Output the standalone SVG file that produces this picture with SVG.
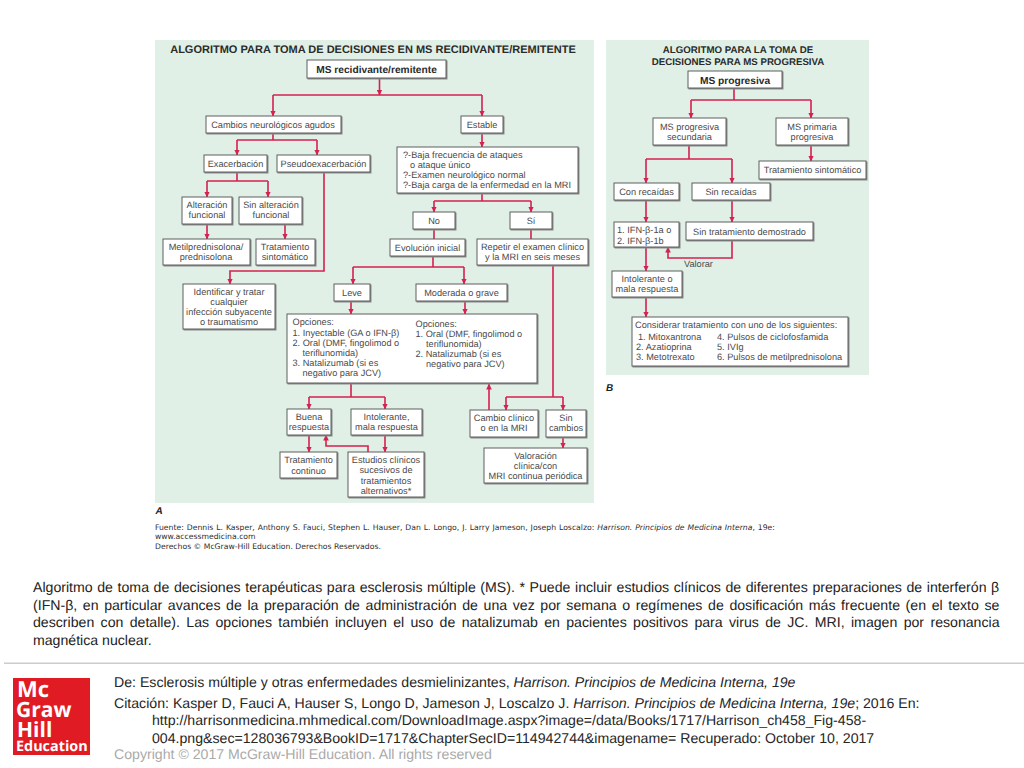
<svg xmlns="http://www.w3.org/2000/svg" width="1024" height="768" viewBox="0 0 1024 768">
<defs>
<marker id="ah" markerUnits="userSpaceOnUse" viewBox="0 0 6 6" refX="5.5" refY="3" markerWidth="6" markerHeight="6" orient="auto"><path d="M0 0.2L6 3L0 5.8z" fill="#d6204f"/></marker>
</defs>
<style>
text{font-family:"Liberation Sans",Arial,sans-serif;text-rendering:geometricPrecision}
.p{fill:#e0f0e6}
.b rect{fill:#fff;stroke:#5f5f5f;stroke-width:1;filter:drop-shadow(1px 1px 0 #8a8a8a)}
.b text{font-size:9.2px;fill:#4a4a4a;text-anchor:middle}
.b text.l{text-anchor:start}
.b text.s{font-weight:bold;font-size:10.2px;fill:#2a2a2a}
.t{font-weight:bold;font-size:11px;fill:#2b2b2b;text-anchor:middle}
.t2{font-size:9.7px}
.c path{fill:none;stroke:#d6204f;stroke-width:1.6}
.c path.a{marker-end:url(#ah)}
.j{font-size:14.14px;fill:#222}
.f{font-size:14.14px;fill:#262626}
.src{font-family:"DejaVu Sans",sans-serif;font-size:7.7px;fill:#2e2e2e}
.lab{font-size:10px;font-weight:bold;font-style:italic;fill:#222}
.lg{font-family:"Open Sans",sans-serif;font-weight:bold;fill:#fff}
</style>
<rect width="1024" height="768" fill="#fff"/>
<rect class="p" x="155" y="40" width="439" height="463"/>
<rect class="p" x="606" y="40" width="263" height="335"/>
<text class="t" x="373" y="53">ALGORITMO PARA TOMA DE DECISIONES EN MS RECIDIVANTE/REMITENTE</text>
<text class="t t2" x="738" y="53">ALGORITMO PARA LA TOMA DE</text>
<text class="t t2" x="738" y="65">DECISIONES PARA MS PROGRESIVA</text>
<g id="connectors" class="c">
<path class="a" d="M379.5 78V95"/><path d="M273 95H482"/><path class="a" d="M273 95V116"/><path class="a" d="M482 95V116"/>
<path d="M273 133V140M237 140H317"/><path class="a" d="M237 140V155"/><path class="a" d="M317 140V155"/>
<path d="M237 172V181M207 181H268"/><path class="a" d="M207 181V197"/><path class="a" d="M268 181V197"/>
<path class="a" d="M324 172V271H230V284"/>
<path class="a" d="M207 224V239"/><path class="a" d="M285 224V239"/>
<path class="a" d="M482 133V147"/>
<path d="M482 193V201M434 201H531"/><path class="a" d="M434 201V212"/><path class="a" d="M531 201V212"/>
<path d="M434 229V239M531 229V239"/>
<path d="M433 256V267M353 267H464"/><path class="a" d="M353 267V284"/><path class="a" d="M464 267V284"/>
<path d="M553 265V397M506 397H563"/><path class="a" d="M506 397V410"/><path class="a" d="M563 397V410"/>
<path class="a" d="M351 301V314"/><path class="a" d="M465 301V314"/>
<path d="M351 383V397M309 397H385"/><path class="a" d="M309 397V409"/><path class="a" d="M385 397V409"/>
<path class="a" d="M489 410V384"/>
<path class="a" d="M309 435V452"/><path class="a" d="M385 435V452"/>
<path class="a" d="M368 452V446H326V435"/>
<path class="a" d="M563 437V448"/>
<path d="M734 88V100M691 100H811"/><path class="a" d="M691 100V118"/><path class="a" d="M811 100V118"/>
<path d="M689 145V159M646 159H732"/><path class="a" d="M646 159V183"/><path class="a" d="M732 159V183"/>
<path class="a" d="M811 145V161"/>
<path class="a" d="M646 200V222"/><path class="a" d="M732 200V222"/>
<path class="a" d="M646 247V271"/>
<path class="a" d="M732 240V258H668V247"/>
<path class="a" d="M646 297V317"/>
</g>
<g id="n-root" class="b"><rect x="307" y="60" width="139" height="18"/><text class="s" x="376.5" y="73">MS recidivante/remitente</text></g>
<g id="n-cambios" class="b"><rect x="206" y="116" width="135" height="17"/><text x="273" y="128">Cambios neurológicos agudos</text></g>
<g id="n-estable" class="b"><rect x="461" y="116" width="42" height="17"/><text x="482" y="128">Estable</text></g>
<g id="n-exac" class="b"><rect x="204" y="155" width="63" height="17"/><text x="235.5" y="167">Exacerbación</text></g>
<g id="n-pseudo" class="b"><rect x="277" y="155" width="93" height="17"/><text x="323.5" y="167">Pseudoexacerbación</text></g>
<g id="n-baja" class="b"><rect x="397" y="147" width="181" height="46"/><text class="l" x="403" y="158">?-Baja frecuencia de ataques</text><text class="l" x="410" y="168">o ataque único</text><text class="l" x="403" y="178">?-Examen neurológico normal</text><text class="l" x="403" y="188">?-Baja carga de la enfermedad en la MRI</text></g>
<g id="n-alt" class="b"><rect x="182" y="197" width="50" height="27"/><text x="207" y="208">Alteración</text><text x="207" y="218">funcional</text></g>
<g id="n-sinalt" class="b"><rect x="239" y="197" width="63" height="27"/><text x="271" y="208">Sin alteración</text><text x="271" y="218">funcional</text></g>
<g id="n-no" class="b"><rect x="413" y="212" width="42" height="17"/><text x="434" y="224">No</text></g>
<g id="n-si" class="b"><rect x="510" y="212" width="42" height="17"/><text x="531" y="224">Sí</text></g>
<g id="n-metil" class="b"><rect x="163" y="239" width="87" height="26"/><text x="206" y="250">Metilprednisolona/</text><text x="206" y="260">prednisolona</text></g>
<g id="n-sint" class="b"><rect x="256" y="239" width="59" height="26"/><text x="285" y="250">Tratamiento</text><text x="285" y="260">sintomático</text></g>
<g id="n-evol" class="b"><rect x="390" y="239" width="75" height="17"/><text x="427.5" y="251">Evolución inicial</text></g>
<g id="n-repetir" class="b"><rect x="477" y="239" width="111" height="26"/><text x="532.5" y="250">Repetir el examen clínico</text><text x="532.5" y="260">y la MRI en seis meses</text></g>
<g id="n-ident" class="b"><rect x="183" y="284" width="92" height="45"/><text x="229" y="295">Identificar y tratar</text><text x="229" y="305">cualquier</text><text x="229" y="315">infección subyacente</text><text x="229" y="325">o traumatismo</text></g>
<g id="n-leve" class="b"><rect x="334" y="284" width="36" height="17"/><text x="352" y="296">Leve</text></g>
<g id="n-mod" class="b"><rect x="416" y="284" width="91" height="17"/><text x="461.5" y="296">Moderada o grave</text></g>
<g id="n-opc" class="b"><rect x="287" y="314" width="250" height="69"/>
<text class="l" x="292.5" y="325">Opciones:</text><text class="l" x="292.5" y="335.5">1. Inyectable (GA o IFN-β)</text><text class="l" x="292.5" y="345.5">2. Oral (DMF, fingolimod o</text><text class="l" x="302.5" y="356">teriflunomida)</text><text class="l" x="292.5" y="366">3. Natalizumab (si es</text><text class="l" x="302.5" y="376">negativo para JCV)</text>
<text class="l" x="415.5" y="326.5">Opciones:</text><text class="l" x="415.5" y="336.7">1. Oral (DMF, fingolimod o</text><text class="l" x="426" y="347">teriflunomida)</text><text class="l" x="415.5" y="357">2. Natalizumab (si es</text><text class="l" x="426" y="367">negativo para JCV)</text></g>
<g id="n-buena" class="b"><rect x="287" y="409" width="44" height="26"/><text x="309" y="419.5">Buena</text><text x="309" y="430">respuesta</text></g>
<g id="n-intol" class="b"><rect x="351" y="409" width="71" height="26"/><text x="386.5" y="420">Intolerante,</text><text x="386.5" y="430">mala respuesta</text></g>
<g id="n-cambio" class="b"><rect x="470" y="410" width="68" height="27"/><text x="504" y="421">Cambio clínico</text><text x="504" y="431">o en la MRI</text></g>
<g id="n-sincamb" class="b"><rect x="546" y="410" width="40" height="27"/><text x="566" y="421">Sin</text><text x="566" y="431">cambios</text></g>
<g id="n-cont" class="b"><rect x="280" y="452" width="57" height="26"/><text x="308.5" y="463">Tratamiento</text><text x="308.5" y="474">continuo</text></g>
<g id="n-estud" class="b"><rect x="348" y="452" width="76" height="45"/><text x="386" y="463">Estudios clínicos</text><text x="386" y="473">sucesivos de</text><text x="386" y="484">tratamientos</text><text x="386" y="494">alternativos*</text></g>
<g id="n-valor" class="b"><rect x="484" y="448" width="103" height="35"/><text x="535.5" y="459">Valoración</text><text x="535.5" y="469">clínica/con</text><text x="535.5" y="479">MRI continua periódica</text></g>
<g id="n-prog" class="b"><rect x="688" y="71" width="94" height="17"/><text class="s" x="735" y="84">MS progresiva</text></g>
<g id="n-sec" class="b"><rect x="653" y="118" width="73" height="27"/><text x="689.5" y="130">MS progresiva</text><text x="689.5" y="140">secundaria</text></g>
<g id="n-prim" class="b"><rect x="776" y="118" width="72" height="27"/><text x="812" y="130">MS primaria</text><text x="812" y="140">progresiva</text></g>
<g id="n-tsint" class="b"><rect x="759" y="161" width="107" height="18"/><text x="812.5" y="173">Tratamiento sintomático</text></g>
<g id="n-con" class="b"><rect x="614" y="183" width="65" height="17"/><text x="646.5" y="195">Con recaídas</text></g>
<g id="n-sin" class="b"><rect x="692" y="183" width="78" height="17"/><text x="731" y="195">Sin recaídas</text></g>
<g id="n-ifn" class="b"><rect x="614" y="222" width="65" height="25"/><text class="l" x="617" y="233">1. IFN-β-1a o</text><text class="l" x="617" y="244">2. IFN-β-1b</text></g>
<g id="n-sintrat" class="b"><rect x="686" y="222" width="127" height="18"/><text x="749.5" y="235">Sin tratamiento demostrado</text></g>
<g id="n-intol2" class="b"><rect x="612" y="271" width="70" height="26"/><text x="647" y="282">Intolerante o</text><text x="647" y="292">mala respuesta</text></g>
<g id="n-cons" class="b"><rect x="632" y="317" width="216" height="49"/><text class="l" x="635" y="328">Considerar tratamiento con uno de los siguientes:</text>
<text class="l" x="638" y="340">1. Mitoxantrona</text><text class="l" x="636" y="350">2. Azatioprina</text><text class="l" x="636" y="360">3. Metotrexato</text><text class="l" x="717" y="340">4. Pulsos de ciclofosfamida</text><text class="l" x="717" y="350">5. IVIg</text><text class="l" x="717" y="360">6. Pulsos de metilprednisolona</text></g>
<text x="684" y="267" style="font-size:9.2px;fill:#4a4a4a">Valorar</text>
<text class="lab" x="155.5" y="514">A</text>
<text class="lab" x="606" y="391">B</text>
<text class="src" x="155" y="530" style="word-spacing:.5px">Fuente: Dennis L. Kasper, Anthony S. Fauci, Stephen L. Hauser, Dan L. Longo, J. Larry Jameson, Joseph Loscalzo: <tspan font-style="italic">Harrison. Principios de Medicina Interna</tspan>, 19e:</text>
<text class="src" x="155" y="539">www.accessmedicina.com</text>
<text class="src" x="155" y="549">Derechos © McGraw-Hill Education. Derechos Reservados.</text>
<text class="j" x="33" y="592" style="word-spacing:.68px">Algoritmo de toma de decisiones terapéuticas para esclerosis múltiple (MS). * Puede incluir estudios clínicos de diferentes preparaciones de interferón β</text>
<text class="j" x="33" y="610" style="word-spacing:1.69px">(IFN-β, en particular avances de la preparación de administración de una vez por semana o regímenes de dosificación más frecuente (en el texto se</text>
<text class="j" x="33" y="627" style="word-spacing:2.43px">describen con detalle). Las opciones también incluyen el uso de natalizumab en pacientes positivos para virus de JC. MRI, imagen por resonancia</text>
<text class="j" x="33" y="645">magnética nuclear.</text>
<rect x="4" y="662.5" width="1020" height="1.5" fill="#ccc"/>
<g id="logo"><rect x="13" y="678" width="77" height="77" fill="#e01b24"/>
<text class="lg"><tspan x="17" y="697" font-size="22">Mc</tspan><tspan x="16" y="717" font-size="21">Graw</tspan><tspan x="17" y="736.5" font-size="21">Hill</tspan><tspan x="16" y="751" font-size="14.4">Education</tspan></text></g>
<text class="f" x="114" y="687">De: Esclerosis múltiple y otras enfermedades desmielinizantes, <tspan font-style="italic">Harrison. Principios de Medicina Interna, 19e</tspan></text>
<text class="f" x="114" y="708">Citación: Kasper D, Fauci A, Hauser S, Longo D, Jameson J, Loscalzo J. <tspan font-style="italic">Harrison. Principios de Medicina Interna, 19e</tspan>; 2016 En:</text>
<text class="f" x="152" y="725">http://harrisonmedicina.mhmedical.com/DownloadImage.aspx?image=/data/Books/1717/Harrison_ch458_Fig-458-</text>
<text class="f" x="152" y="743">004.png&amp;sec=128036793&amp;BookID=1717&amp;ChapterSecID=114942744&amp;imagename= Recuperado: October 10, 2017</text>
<text x="114" y="759" style="font-size:14.14px;fill:#aaa">Copyright © 2017 McGraw-Hill Education. All rights reserved</text>
</svg>
